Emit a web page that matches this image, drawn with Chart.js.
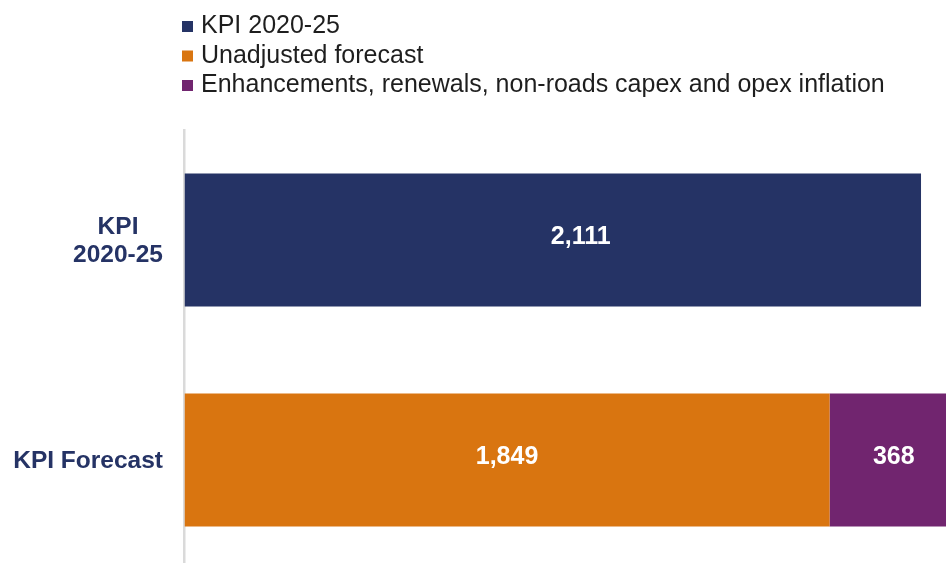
<!DOCTYPE html>
<html>
<head>
<meta charset="utf-8">
<script src="https://cdn.jsdelivr.net/npm/chart.js@4.4.1/dist/chart.umd.min.js"></script>
<style>
  html, body { margin: 0; padding: 0; background: #ffffff; overflow: hidden; }
  #wrap { position: relative; width: 946px; height: 563px; overflow: hidden; }
  #chart { position: absolute; left: 0; top: 0; }
</style>
</head>
<body>
<div id="wrap"><canvas id="chart" width="960" height="572"></canvas></div>
<script>
// Categories (each label may span several lines)
const categories = [["KPI", "2020-25"], ["KPI Forecast"]];
// Series names
const seriesNames = [
  "KPI 2020-25",
  "Unadjusted forecast",
  "Enhancements, renewals, non-roads capex and opex inflation"
];
// Series values, one entry per category
const kpi2020 = [2111, null];
const unadjusted = [null, 1849];
const enhancements = [null, 368];

const colors = ["#253365", "#D97510", "#71256F"];
const FONT = "'Liberation Sans', Arial, sans-serif";

// White value labels in the middle of each bar segment
const valueLabels = {
  id: "valueLabels",
  afterDatasetsDraw(chart) {
    const ctx = chart.ctx;
    ctx.save();
    ctx.font = "bold 25px " + FONT;
    ctx.fillStyle = "#ffffff";
    ctx.textAlign = "center";
    ctx.textBaseline = "middle";
    chart.data.datasets.forEach((ds, i) => {
      const meta = chart.getDatasetMeta(i);
      meta.data.forEach((bar, j) => {
        const v = ds.data[j];
        if (v === null || v === undefined) return;
        const c = bar.getCenterPoint();
        const shift = ds.labelShift || 0;
        ctx.fillText(v.toLocaleString("en-US"), c.x + shift, c.y - 3);
      });
    });
    ctx.restore();
  }
};

// Category names drawn left of the axis: each block right-aligned, lines centred in the block
const categoryLabels = {
  id: "categoryLabels",
  afterDraw(chart) {
    const ctx = chart.ctx;
    const yScale = chart.scales.y;
    const right = 163;
    const lineH = 28;
    ctx.save();
    ctx.font = "bold 24.5px " + FONT;
    ctx.fillStyle = "#253365";
    ctx.textAlign = "center";
    ctx.textBaseline = "middle";
    chart.data.labels.forEach((lab, i) => {
      const lines = Array.isArray(lab) ? lab : [lab];
      const w = Math.max(...lines.map(l => ctx.measureText(l).width));
      const cx = right - w / 2;
      const cy = yScale.getPixelForTick(i);
      const y0 = cy - (lines.length - 1) * lineH / 2;
      lines.forEach((l, k) => ctx.fillText(l, cx, y0 + k * lineH + 1));
    });
    ctx.restore();
  }
};

// Vertical legend with small square markers above the plot
const stackedLegend = {
  id: "stackedLegend",
  afterDraw(chart) {
    const ctx = chart.ctx;
    const x0 = 182, box = 11, textX = 201;
    const rows = [26.5, 56, 85.5];
    ctx.save();
    ctx.font = "25px " + FONT;
    ctx.textBaseline = "middle";
    ctx.textAlign = "left";
    chart.data.datasets.forEach((ds, i) => {
      const y = rows[i];
      ctx.fillStyle = ds.backgroundColor;
      ctx.fillRect(x0, y - box / 2, box, box);
      ctx.fillStyle = "#1e1e1e";
      ctx.fillText(ds.label, textX, y);
    });
    ctx.restore();
  }
};

new Chart(document.getElementById("chart"), {
  type: "bar",
  data: {
    labels: categories,
    datasets: [
      { label: seriesNames[0], data: kpi2020, backgroundColor: colors[0], labelShift: 28 },
      { label: seriesNames[1], data: unadjusted, backgroundColor: colors[1] },
      { label: seriesNames[2], data: enhancements, backgroundColor: colors[2] }
    ]
  },
  options: {
    indexAxis: "y",
    responsive: false,
    animation: false,
    devicePixelRatio: 1,
    layout: { padding: { top: 130, right: 2, bottom: 2, left: 0 } },
    datasets: { bar: { categoryPercentage: 1, barPercentage: 0.605, borderWidth: 0 } },
    plugins: {
      legend: { display: false },
      tooltip: { enabled: false }
    },
    scales: {
      x: {
        stacked: true,
        display: false,
        min: 0,
        max: 2217
      },
      y: {
        stacked: true,
        ticks: { display: false },
        grid: { display: false },
        border: { display: true, color: "#dadada", width: 2.5 },
        afterFit(scale) { scale.width = 184.5; }
      }
    }
  },
  plugins: [valueLabels, categoryLabels, stackedLegend]
});
</script>
</body>
</html>
